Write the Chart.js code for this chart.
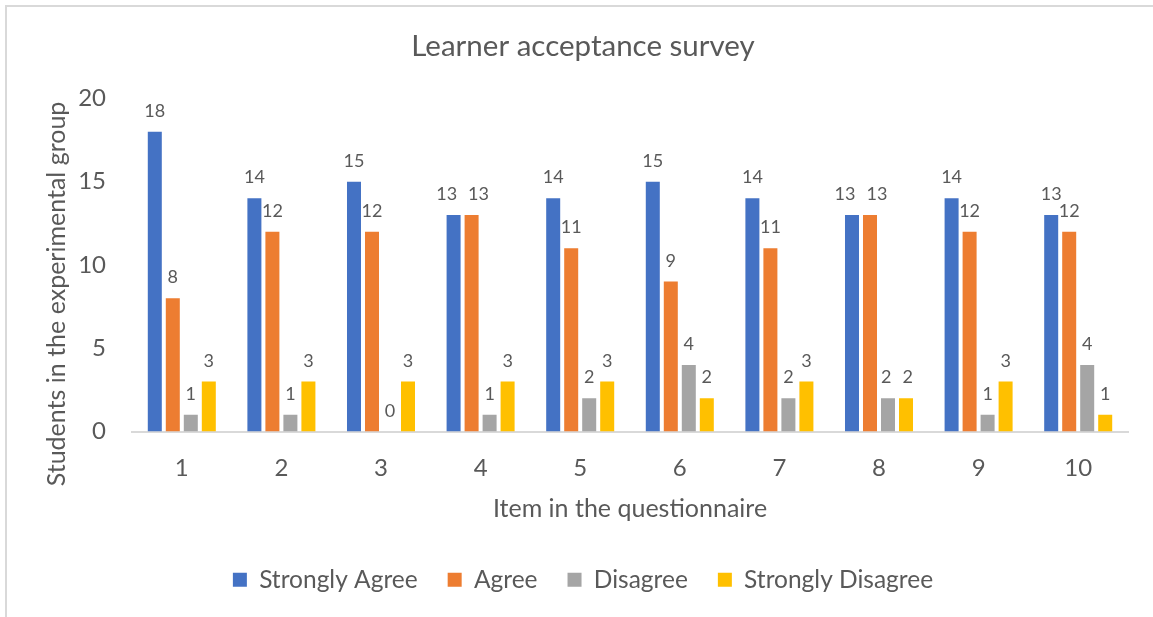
<!DOCTYPE html>
<html>
<head>
<meta charset="utf-8">
<script src="https://cdn.jsdelivr.net/npm/chart.js@4.4.1/dist/chart.umd.min.js"></script>
<style>
  html, body { margin: 0; padding: 0; background: #fff; overflow: hidden; }
  #wrap { position: absolute; left: 0; top: 0; width: 1153px; height: 617px; overflow: hidden; }
  #frame { position: absolute; left: 5px; top: 5px; width: 1200px; height: 700px; border: 2px solid #d9d9d9; pointer-events: none; }
</style>
</head>
<body>
<div id="wrap">
  <canvas id="main" width="1153" height="617"></canvas>
  <div id="frame"></div>
</div>
<script>
const items = ['1', '2', '3', '4', '5', '6', '7', '8', '9', '10'];
const stronglyAgree = [18, 14, 15, 13, 14, 15, 14, 13, 14, 13];
const agree = [8, 12, 12, 13, 11, 9, 11, 13, 12, 12];
const disagree = [1, 1, 0, 1, 2, 4, 2, 2, 1, 4];
const stronglyDisagree = [3, 3, 3, 3, 3, 2, 3, 2, 3, 1];
const yTitle = 'Students in the experimental group';

const textColor = '#595959';
const fontFamily = 'Lato, "Open Sans", sans-serif';

// value above every bar, nudged sideways when two labels in a group collide
const valueLabels = {
  id: 'valueLabels',
  afterDatasetsDraw(chart) {
    const ctx = chart.ctx;
    ctx.save();
    ctx.font = '18px ' + fontFamily;
    ctx.fillStyle = textColor;
    ctx.textAlign = 'center';
    ctx.textBaseline = 'alphabetic';
    const n = chart.data.labels.length;
    for (let j = 0; j < n; j++) {
      const labels = chart.data.datasets.map((ds, i) => {
        const bar = chart.getDatasetMeta(i).data[j];
        const text = String(ds.data[j]);
        return { text, x: bar.x, y: bar.y - 15, w: ctx.measureText(text).width };
      });
      for (let k = 1; k < labels.length; k++) {
        const a = labels[k - 1], b = labels[k];
        if (Math.abs(a.y - b.y) < 14) {
          const need = (a.w + b.w) / 2 + 11;
          const have = b.x - a.x;
          if (have < need) {
            const d = (need - have) / 2;
            a.x -= d;
            b.x += d;
          }
        }
      }
      labels.forEach(l => ctx.fillText(l.text, l.x, l.y));
    }
    ctx.restore();
  }
};

// y axis title, centred a little below the plot middle like the original
const yAxisTitle = {
  id: 'yAxisTitle',
  afterDraw(chart) {
    const ctx = chart.ctx;
    const s = chart.scales.y;
    const area = chart.chartArea;
    ctx.save();
    ctx.translate(s.left + 19, (area.top + area.bottom) / 2 + 29);
    ctx.rotate(-Math.PI / 2);
    ctx.font = '25px ' + fontFamily;
    ctx.fillStyle = textColor;
    ctx.textAlign = 'center';
    ctx.textBaseline = 'middle';
    ctx.fillText(yTitle, 0, 0);
    ctx.restore();
  }
};

const mkSet = (label, values, color) => ({
  label: label,
  data: values,
  backgroundColor: color,
  categoryPercentage: 0.723,
  barPercentage: 0.778,
});

new Chart(document.getElementById('main'), {
  type: 'bar',
  data: {
    labels: items,
    datasets: [
      mkSet('Strongly Agree', stronglyAgree, '#4472C4'),
      mkSet('Agree', agree, '#ED7D31'),
      mkSet('Disagree', disagree, '#A5A5A5'),
      mkSet('Strongly Disagree', stronglyDisagree, '#FFC000'),
    ],
  },
  options: {
    responsive: false,
    animation: false,
    layout: { padding: { left: 38, right: 25, top: 24, bottom: 15 } },
    plugins: {
      title: {
        display: true,
        text: 'Learner acceptance survey',
        color: textColor,
        font: { family: fontFamily, size: 29.5, weight: 'normal' },
        padding: { top: 5, bottom: 34 },
      },
      legend: {
        position: 'bottom',
        labels: {
          color: textColor,
          font: { family: fontFamily, size: 24.5 },
          boxWidth: 14,
          boxHeight: 14,
          padding: 30,
        },
      },
      tooltip: { enabled: false },
    },
    scales: {
      x: {
        afterFit: scale => { scale.height = 106; },
        grid: { display: false, drawTicks: false },
        border: { color: '#d9d9d9', width: 2 },
        ticks: { color: textColor, font: { family: fontFamily, size: 24 }, padding: 22 },
        title: {
          display: true,
          text: 'Item in the questionnaire',
          color: textColor,
          font: { family: fontFamily, size: 25 },
          padding: { top: 0, bottom: 14 },
        },
      },
      y: {
        min: 0,
        max: 20,
        afterFit: scale => { scale.width = 94; },
        ticks: { stepSize: 5, color: textColor, font: { family: fontFamily, size: 24 }, padding: 26 },
        grid: { display: false, drawTicks: false },
        border: { display: false },
      },
    },
  },
  plugins: [valueLabels, yAxisTitle],
});
</script>
</body>
</html>
